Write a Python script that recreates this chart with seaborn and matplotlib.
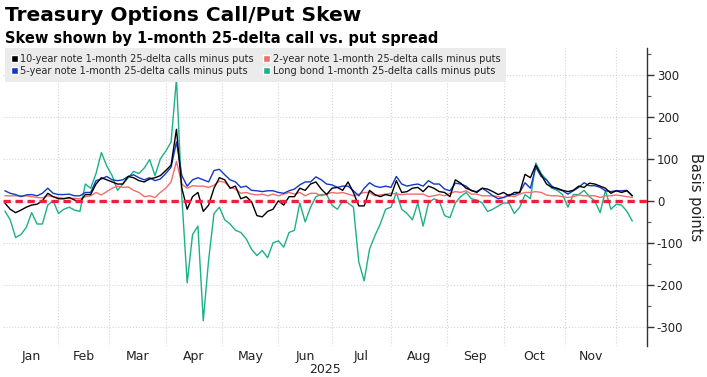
import numpy as np
import pandas as pd
import matplotlib
matplotlib.use('Agg')
import matplotlib.pyplot as plt
import seaborn as sns
from matplotlib.patches import Patch
from matplotlib.ticker import MultipleLocator

# trading calendar (NYSE 2025), values read every second trading day
holidays = ['2025-01-01', '2025-01-09', '2025-01-20', '2025-02-17', '2025-04-18',
            '2025-05-26', '2025-06-19', '2025-07-04', '2025-09-01', '2025-11-27']
start_date = '2025-01-02'
end_date = '2025-12-09'
month_names = ['Jan', 'Feb', 'Mar', 'Apr', 'May', 'Jun', 'Jul', 'Aug', 'Sep', 'Oct', 'Nov']

ten_year = [
    -5, -20, -28, -22, -15, -10, -8, 0, 18, 10,             # Jan
    5, 5, 8, 2, -3, 15, 15, 40, 55, 50,                     # Feb
    45, 40, 40, 58, 55, 48, 45, 52, 55, 60,                 # Mar
    72, 85, 170, 30, -20, 10, 20, -25, -10, 30, 55,         # Apr
    50, 30, 35, 5, 10, -2, -35, -38, -25, -20,              # May
    0, -10, 10, 10, 30, 25, 40, 45, 28, 15,                 # Jun
    30, 32, 25, 45, 20, -12, -12, 25, 15, 10, 15,           # Jul
    12, 48, 20, 22, 30, 32, 22, 35, 30, 22, 20,             # Aug
    10, 50, 42, 30, 25, 20, 30, 28, 22, 15,                 # Sep
    20, 12, 20, 20, 63, 55, 85, 62, 40, 32, 30, 25,         # Oct
    22, 25, 35, 32, 42, 40, 35, 30, 18,                     # Nov
    24, 20, 24, 12,                                         # Dec
]
five_year = [
    24, 18, 15, 10, 14, 15, 12, 18, 30, 18,
    15, 15, 16, 12, 12, 20, 20, 48, 52, 58,
    50, 48, 50, 58, 62, 55, 50, 55, 48, 52,
    65, 80, 140, 60, 35, 50, 55, 50, 45, 72, 75,
    62, 50, 45, 32, 35, 25, 24, 22, 24, 24,
    20, 18, 24, 28, 38, 45, 45, 57, 50, 40,
    38, 32, 35, 35, 24, 12, 30, 43, 35, 32, 35,
    32, 58, 40, 35, 38, 40, 35, 48, 40, 40, 28,
    24, 42, 40, 35, 24, 22, 30, 22, 12, 5,
    8, 15, 15, 20, 43, 30, 80, 58, 50, 35, 28, 24,
    16, 24, 32, 43, 36, 36, 32, 24, 22,
    24, 24, 25, 12,
]
two_year = [
    12, 12, 12, 12, 12, 10, 8, 7, 12, 10,
    8, 6, 6, 6, 5, 10, 12, 20, 14, 22,
    30, 35, 32, 33, 25, 20, 10, 12, 8, 20,
    30, 45, 94, 40, 30, 36, 35, 35, 32, 37, 47,
    44, 32, 28, 18, 20, 16, 14, 16, 12, 16,
    12, 16, 20, 16, 20, 12, 18, 18, 12, 16,
    20, 18, 20, 16, 12, 16, 20, 20, 12, 14, 16,
    18, 16, 15, 16, 16, 16, 16, 10, 12, 15, 12,
    18, 22, 20, 24, 16, 16, 12, 12, 12, 10,
    8, 12, 10, 16, 20, 20, 22, 20, 14, 12, 12, 10,
    8, 10, 14, 12, 12, 12, 8, 12, 12,
    14, 12, 10, 8,
]
long_bond = [
    -24, -45, -87, -80, -63, -28, -55, -55, -10, 0,
    -30, -20, -15, -22, -25, 40, 30, 65, 115, 83,
    60, 25, 40, 55, 70, 65, 78, 98, 60, 100,
    118, 140, 290, 10, -195, -80, -60, -285, -140, -30, -15,
    -45, -55, -70, -75, -90, -115, -130, -118, -135, -100,
    -95, -110, -75, -70, -5, -50, -15, 10, 15, 15,
    -10, -20, 0, -5, -15, -145, -190, -115, -83, -55, -20,
    -15, 20, -20, -30, -45, -5, -60, -5, 5, 0, -35,
    -40, -5, 10, 20, 5, 2, -5, -25, -20, -12,
    -5, -5, -30, -15, 15, 5, 90, 65, 50, 30, 25, 15,
    -15, 15, 15, 25, 10, 0, -28, 25, -20,
    -8, -10, -25, -48,
]

labels = {
    'ten': '10-year note 1-month 25-delta calls minus puts',
    'two': '2-year note 1-month 25-delta calls minus puts',
    'five': '5-year note 1-month 25-delta calls minus puts',
    'long': 'Long bond 1-month 25-delta calls minus puts',
}
colors = {
    labels['ten']: '#000000',
    labels['two']: '#f26d6a',
    labels['five']: '#1238c4',
    labels['long']: '#1db088',
}

days = pd.bdate_range(start_date, end_date, freq='C', holidays=holidays)
pos = np.arange(len(days))[::2]

frames = []
for key, vals in [('long', long_bond), ('two', two_year), ('five', five_year), ('ten', ten_year)]:
    frames.append(pd.DataFrame({'pos': pos[:len(vals)], 'value': vals, 'series': labels[key]}))
df = pd.concat(frames, ignore_index=True)

sns.set_theme(style='white')
plt.rcParams['font.family'] = ['DejaVu Sans']
plt.rcParams['axes.unicode_minus'] = False

fig = plt.figure(figsize=(7.07, 3.77), dpi=100)
ax = fig.add_axes([0.0042, 0.082, 0.911, 0.7905])

draw_order = [labels['long'], labels['two'], labels['five'], labels['ten']]
sns.lineplot(data=df, x='pos', y='value', hue='series', hue_order=draw_order,
             palette=colors, linewidth=1.0, legend=False, estimator=None, sort=False, ax=ax)

ax.axhline(0, color='#e8223d', linewidth=2.4, linestyle=(0, (2.2, 1.4)), zorder=5)

# month boundaries and label positions
month_idx = np.array([np.argmax(days.month == m) for m in range(1, 13)])
month_mid = (month_idx[:-1] + month_idx[1:]) / 2.0

ax.set_xlim(-0.7, 239.5)
ax.set_ylim(-345, 363)
ax.set_xticks(month_idx[1:])
ax.set_xticklabels([])
ax.set_xticks(month_mid, minor=True)
ax.set_xticklabels(month_names, minor=True, fontsize=9, color='#222222')
ax.tick_params(axis='x', which='both', length=0, pad=3)
ax.set_xlabel('2025', fontsize=9, color='#222222', labelpad=0)

ax.yaxis.tick_right()
ax.yaxis.set_label_position('right')
ax.set_yticks(range(-300, 301, 100))
ax.yaxis.set_minor_locator(MultipleLocator(50))
ax.tick_params(axis='y', which='major', length=5, width=1, color='#333333',
               labelsize=8.5, labelcolor='#222222', pad=2, right=True, left=False)
ax.tick_params(axis='y', which='minor', length=3, width=0.8, color='#555555', right=True, left=False)
ax.set_ylabel('Basis points', fontsize=10.5, rotation=270, labelpad=14, color='#222222')

ax.grid(True, which='major', axis='both', color='#d4d4d4', linestyle=':', linewidth=0.8)
for side in ['top', 'left', 'bottom']:
    ax.spines[side].set_visible(False)
ax.spines['right'].set_color('#333333')
ax.spines['right'].set_linewidth(1)

handles = [Patch(facecolor=colors[labels[k]], label=labels[k]) for k in ['ten', 'five', 'two', 'long']]
leg = ax.legend(handles=handles, ncol=2, loc='upper left', bbox_to_anchor=(0.003, 1.0),
                fontsize=7, frameon=True, facecolor='#ebebeb', edgecolor='none', fancybox=False,
                framealpha=1, handlelength=0.7, handleheight=0.7, handletextpad=0.3,
                columnspacing=0.9, borderpad=0.6, labelspacing=0.2, borderaxespad=0)
leg.set_zorder(10)

fig.text(0.007, 0.985, 'Treasury Options Call/Put Skew', fontsize=14.5, fontweight='bold',
         va='top', ha='left', color='#000000')
fig.text(0.007, 0.918, 'Skew shown by 1-month 25-delta call vs. put spread', fontsize=10.5,
         fontweight='bold', va='top', ha='left', color='#000000')

fig.savefig('out.png', dpi=100)
